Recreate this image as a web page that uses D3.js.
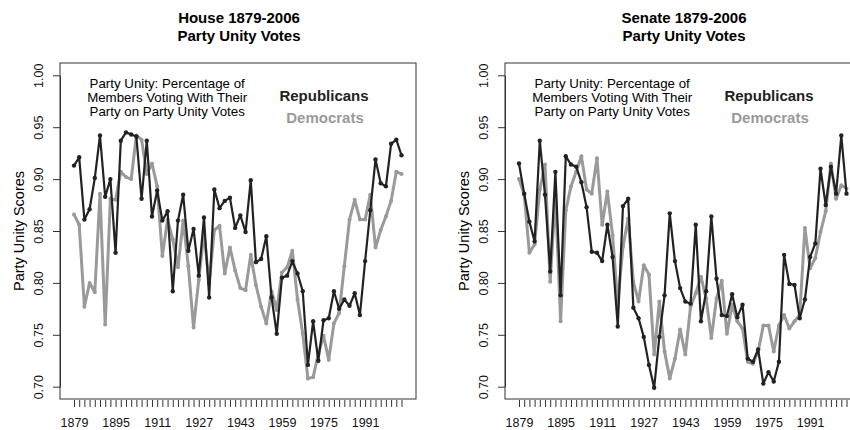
<!DOCTYPE html>
<html>
<head>
<meta charset="utf-8">
<script src="https://cdn.jsdelivr.net/npm/d3@7"></script>
<style>
  body { margin: 0; background: #fff; }
  svg { display: block; font-family: "Liberation Sans", Arial, sans-serif; }
  .tick line { stroke: #333; }
</style>
</head>
<body>
<svg id="chart" width="850" height="430"></svg>
<script>
// congress start years, one point per congress
const years = [1879, 1881, 1883, 1885, 1887, 1889, 1891, 1893, 1895, 1897, 1899, 1901, 1903, 1905, 1907, 1909,
  1911, 1913, 1915, 1917, 1919, 1921, 1923, 1925, 1927, 1929, 1931, 1933, 1935, 1937, 1939, 1941,
  1943, 1945, 1947, 1949, 1951, 1953, 1955, 1957, 1959, 1961, 1963, 1965, 1967, 1969, 1971, 1973,
  1975, 1977, 1979, 1981, 1983, 1985, 1987, 1989, 1991, 1993, 1995, 1997, 1999, 2001, 2003, 2005];
const yearLabels = [1879, 1895, 1911, 1927, 1943, 1959, 1975, 1991];
const scoreTicks = [0.70, 0.75, 0.80, 0.85, 0.90, 0.95, 1.00];

const houseRep = [0.913, 0.921, 0.861, 0.871, 0.901, 0.942, 0.883, 0.900, 0.829, 0.937, 0.945, 0.943, 0.941, 0.881, 0.937, 0.864,
  0.889, 0.860, 0.869, 0.792, 0.860, 0.885, 0.831, 0.852, 0.807, 0.863, 0.786, 0.890, 0.872, 0.879, 0.882, 0.853,
  0.865, 0.849, 0.899, 0.820, 0.823, 0.845, 0.786, 0.751, 0.805, 0.807, 0.821, 0.809, 0.792, 0.721, 0.763, 0.725,
  0.764, 0.766, 0.792, 0.775, 0.784, 0.778, 0.790, 0.769, 0.821, 0.870, 0.919, 0.896, 0.893, 0.934, 0.938, 0.923];
const houseDem = [0.866, 0.856, 0.777, 0.800, 0.791, 0.886, 0.760, 0.881, 0.880, 0.907, 0.902, 0.900, 0.942, 0.938, 0.905, 0.915,
  0.893, 0.826, 0.861, 0.842, 0.815, 0.860, 0.816, 0.757, 0.803, 0.848, 0.800, 0.851, 0.855, 0.809, 0.834, 0.812,
  0.795, 0.793, 0.827, 0.798, 0.777, 0.761, 0.792, 0.774, 0.810, 0.815, 0.831, 0.784, 0.751, 0.708, 0.709, 0.732,
  0.749, 0.726, 0.761, 0.771, 0.816, 0.861, 0.880, 0.861, 0.861, 0.885, 0.834, 0.851, 0.864, 0.879, 0.907, 0.905];
const senateRep = [0.915, 0.886, 0.859, 0.840, 0.937, 0.885, 0.811, 0.907, 0.788, 0.922, 0.914, 0.912, 0.897, 0.873, 0.830, 0.829,
  0.821, 0.856, 0.825, 0.758, 0.874, 0.881, 0.776, 0.766, 0.748, 0.721, 0.699, 0.748, 0.788, 0.867, 0.821, 0.795,
  0.782, 0.780, 0.856, 0.763, 0.792, 0.864, 0.804, 0.769, 0.768, 0.789, 0.767, 0.779, 0.727, 0.724, 0.736, 0.703,
  0.714, 0.705, 0.724, 0.827, 0.799, 0.798, 0.766, 0.784, 0.825, 0.838, 0.910, 0.875, 0.912, 0.886, 0.942, 0.886];
const senateDem = [0.900, 0.885, 0.829, 0.837, 0.890, 0.914, 0.801, 0.885, 0.763, 0.870, 0.893, 0.907, 0.922, 0.890, 0.886, 0.920,
  0.856, 0.888, 0.846, 0.780, 0.835, 0.862, 0.801, 0.782, 0.817, 0.808, 0.731, 0.782, 0.734, 0.708, 0.727, 0.755,
  0.731, 0.777, 0.790, 0.806, 0.785, 0.747, 0.785, 0.802, 0.751, 0.779, 0.763, 0.756, 0.724, 0.722, 0.734, 0.759,
  0.759, 0.734, 0.759, 0.769, 0.756, 0.763, 0.769, 0.853, 0.814, 0.824, 0.849, 0.869, 0.915, 0.881, 0.894, 0.891];

const repColor = '#222';
const demColor = '#9a9a9a';

const svg = d3.select('#chart');

const drawPanel = (offsetX, chamber, repVals, demVals) => {
  const g = svg.append('g')
    .attr('transform', `translate(${offsetX}, 0)`);

  const x = d3.scaleLinear()
    .domain([1879, 2005])
    .range([74, 401.5]);
  const y = d3.scaleLinear()
    .domain([0.70, 1.00])
    .range([386.7, 75.3]);

  // title
  g.append('text')
    .attr('x', 239).attr('y', 23.3)
    .attr('text-anchor', 'middle')
    .style('font-size', '15px').style('font-weight', 'bold')
    .text(`${chamber} 1879-2006`);
  g.append('text')
    .attr('x', 239).attr('y', 40.5)
    .attr('text-anchor', 'middle')
    .style('font-size', '15px').style('font-weight', 'bold')
    .text('Party Unity Votes');

  // plot box
  g.append('rect')
    .attr('x', 60).attr('y', 63)
    .attr('width', 356).attr('height', 336)
    .attr('fill', 'none')
    .attr('stroke', '#333')
    .attr('stroke-width', 1);

  // y axis
  const yAxis = g.append('g')
    .attr('transform', 'translate(60, 0)')
    .call(d3.axisLeft(y).tickValues(scoreTicks).tickSize(7).tickSizeOuter(0).tickFormat(d3.format('.2f')));
  yAxis.select('.domain').attr('stroke', '#333');
  yAxis.selectAll('text')
    .attr('x', null).attr('dy', null)
    .attr('text-anchor', 'middle')
    .attr('transform', 'translate(-16.7, 0) rotate(-90)')
    .style('font-size', '12.5px')
    .attr('fill', '#111');

  g.append('text')
    .attr('transform', 'translate(24, 231) rotate(-90)')
    .attr('text-anchor', 'middle')
    .style('font-size', '14.5px')
    .text('Party Unity Scores');

  // x axis, a tick per congress, label every 16 years
  const xAxis = g.append('g')
    .attr('transform', 'translate(0, 400)')
    .call(d3.axisBottom(x).tickValues(years).tickSize(7)
      .tickFormat((d) => yearLabels.includes(d) ? String(d) : ''));
  xAxis.select('.domain').remove();
  xAxis.selectAll('text')
    .attr('y', 18.5)
    .style('font-size', '12.5px')
    .attr('fill', '#111');

  // annotation and legend text
  const note = ['Party Unity: Percentage of', 'Members Voting With Their', 'Party on Party Unity Votes'];
  g.selectAll('.note')
    .data(note)
    .enter()
    .append('text')
    .attr('class', 'note')
    .attr('x', 167.2)
    .attr('y', (d, i) => 88.3 + i * 13.9)
    .attr('text-anchor', 'middle')
    .style('font-size', '13.3px')
    .text((d) => d);

  g.append('text')
    .attr('x', 324).attr('y', 100.7)
    .attr('text-anchor', 'middle')
    .style('font-size', '15px').style('font-weight', 'bold')
    .attr('fill', repColor)
    .text('Republicans');
  g.append('text')
    .attr('x', 325).attr('y', 122.7)
    .attr('text-anchor', 'middle')
    .style('font-size', '15px').style('font-weight', 'bold')
    .attr('fill', demColor)
    .text('Democrats');

  const line = d3.line()
    .x((d, i) => x(years[i]))
    .y((d) => y(d));

  // democrats first, republicans drawn over them
  g.append('path')
    .datum(demVals)
    .attr('fill', 'none')
    .attr('stroke', demColor)
    .attr('stroke-width', 3)
    .attr('stroke-linejoin', 'round')
    .attr('d', line);
  g.selectAll('.dem-dot')
    .data(demVals)
    .enter()
    .append('circle')
    .attr('class', 'dem-dot')
    .attr('cx', (d, i) => x(years[i]))
    .attr('cy', (d) => y(d))
    .attr('r', 2)
    .attr('fill', demColor);

  g.append('path')
    .datum(repVals)
    .attr('fill', 'none')
    .attr('stroke', repColor)
    .attr('stroke-width', 2.2)
    .attr('stroke-linejoin', 'round')
    .attr('d', line);
  g.selectAll('.rep-dot')
    .data(repVals)
    .enter()
    .append('circle')
    .attr('class', 'rep-dot')
    .attr('cx', (d, i) => x(years[i]))
    .attr('cy', (d) => y(d))
    .attr('r', 2.2)
    .attr('fill', repColor);
};

drawPanel(0, 'House', houseRep, houseDem);
drawPanel(445, 'Senate', senateRep, senateDem);
</script>
</body>
</html>
